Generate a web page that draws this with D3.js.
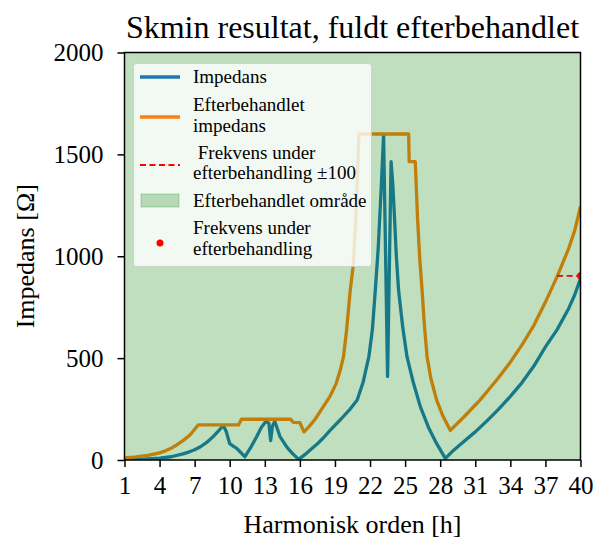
<!DOCTYPE html>
<html>
<head>
<meta charset="utf-8">
<script src="https://cdn.jsdelivr.net/npm/d3@7"></script>
<style>
  body { margin: 0; background: #fff; }
  text { font-family: "Liberation Serif", "Times New Roman", serif; }
</style>
</head>
<body>
<div id="graph"></div>
<script>
// harmonic order / impedance
var impedans = [
  [1,0],[2,2],[3,5],[4,9],[5,16],[6,30],[6.5,39],[7,50],[7.5,65],[8,85],[8.5,110],[9,140],[9.45,170],
  [9.7,140],[10.0,80],[10.3,68],[10.6,57],[11.3,16],[11.8,62],[12.3,114],[12.7,160],[13.1,190],
  [13.35,180],[13.5,95],[13.65,165],[13.85,190],[14.3,115],[14.9,62],[15.4,30],[15.9,3],
  [16.5,30],[17,55],[17.5,80],[18,108],[18.6,147],[19.5,200],[20.3,250],[20.9,294],[21.4,380],
  [21.9,507],[22.2,640],[22.45,834],[22.7,1040],[22.95,1330],[23.16,1595],[23.5,410],[23.8,1464],
  [23.95,1350],[24.1,1180],[24.25,1000],[24.44,834],[24.8,650],[25.16,507],[25.7,380],[26.3,262],
  [27.0,160],[27.7,80],[28.44,8],
  [29,40],[30,90],[31,138],[32,192],[33,250],[34,312],[35,380],[36,460],[37,555],[38,640],
  [39,745],[39.5,810],[40,890]
];
var efterbehandlet = [
  [1,10],[2,15],[3,23],[4,35],[4.5,45],[5,58],[5.5,75],[6,95],[6.6,123],[7.3,172],[10.75,172],[11.0,200],
  [15.2,200],[15.45,185],[16.0,183],[16.35,138],[16.8,165],[17.3,200],[18,262],[18.6,315],[19.1,375],
  [19.45,440],[19.73,507],[20.0,640],[20.3,830],[20.55,948],[20.8,1200],[21.05,1600],[25.3,1600],
  [25.35,1464],[25.87,1464],[26.07,1178],[26.25,990],[26.45,834],[26.65,660],[26.88,507],[27.2,400],
  [27.7,294],[28.2,220],[28.87,145],
  [30,210],[31,270],[31.4,294],[32,335],[33,405],[33.7,458],[34,480],[35,565],[36,660],[37,775],
  [38,900],[39,1040],[39.5,1125],[40,1245]
];
var frekvensLinje = [[38,904],[40,904]];
var frekvensPunkt = [[40,904]];
var omraade = [1, 40];
var xTicks = [1,4,7,10,13,16,19,22,25,28,31,34,37,40];
var yTicks = [0,500,1000,1500,2000];

var w = 597, h = 538;
var pLeft = 124.5, pRight = 580.5, pTop = 52.5, pBottom = 460;

var svg = d3.select("div#graph").append("svg")
  .attr("width", w).attr("height", h);

var x = d3.scaleLinear().domain([1,40]).range([pLeft, pRight]);
var y = d3.scaleLinear().domain([0,2000]).range([pBottom, pTop]);

svg.append("defs").append("clipPath").attr("id","clip")
  .append("rect").attr("x",pLeft).attr("y",pTop).attr("width",pRight-pLeft).attr("height",pBottom-pTop);

var plot = svg.append("g").attr("clip-path","url(#clip)");

var line = d3.line().x(function(d){return x(d[0])}).y(function(d){return y(d[1])});

plot.append("path").datum(impedans)
  .attr("fill","none").attr("stroke","#1f77b4").attr("stroke-width",3.3)
  .attr("stroke-linejoin","round").attr("stroke-linecap","round").attr("d", line);
plot.append("path").datum(efterbehandlet)
  .attr("fill","none").attr("stroke","#ff7f0e").attr("stroke-width",3.3)
  .attr("stroke-linejoin","round").attr("d", line);

// treated area (drawn over the lines, semi transparent)
plot.append("rect")
  .attr("x", x(omraade[0])).attr("y", y(2000))
  .attr("width", x(omraade[1]) - x(omraade[0])).attr("height", y(0) - y(2000))
  .attr("fill","green").attr("fill-opacity",0.25);

plot.append("path").datum(frekvensLinje)
  .attr("fill","none").attr("stroke","red").attr("stroke-width",1.8)
  .attr("stroke-dasharray","6,3.5").attr("d", line);
plot.selectAll("circle.pkt").data(frekvensPunkt).enter().append("circle")
  .attr("class","pkt").attr("fill","red")
  .attr("cx", function(d){return x(d[0])}).attr("cy", function(d){return y(d[1])}).attr("r",3.5);

// axes
var xa = svg.append("g").attr("transform","translate(0,"+pBottom+")")
  .call(d3.axisBottom(x).tickValues(xTicks).tickSize(7).tickPadding(9).tickFormat(d3.format("d")));
var ya = svg.append("g").attr("transform","translate("+pLeft+",0)")
  .call(d3.axisLeft(y).tickValues(yTicks).tickSize(7).tickPadding(14).tickFormat(d3.format("d")));
[xa, ya].forEach(function(a){
  a.select(".domain").remove();
  a.selectAll("line").attr("stroke","#000").attr("stroke-width",1.5);
  a.selectAll("text").attr("fill","#000").style("font-size","25px")
    .style("font-family","Liberation Serif, serif");
});

// frame
svg.append("rect").attr("x",pLeft).attr("y",pTop).attr("width",pRight-pLeft).attr("height",pBottom-pTop)
  .attr("fill","none").attr("stroke","#000").attr("stroke-width",1.5);

// titles
svg.append("text").attr("x",(pLeft+pRight)/2).attr("y",38).attr("text-anchor","middle")
  .style("font-size","32px").text("Skmin resultat, fuldt efterbehandlet");
svg.append("text").attr("x",(pLeft+pRight)/2).attr("y",533).attr("text-anchor","middle")
  .style("font-size","26px").text("Harmonisk orden [h]");
svg.append("text").attr("transform","translate(34,"+((pTop+pBottom)/2)+") rotate(-90)")
  .attr("text-anchor","middle").style("font-size","26px").text("Impedans [Ω]");

// legend
var lg = svg.append("g");
lg.append("rect").attr("x",133.5).attr("y",63.5).attr("width",238).attr("height",203).attr("rx",3)
  .attr("fill","#fff").attr("fill-opacity",0.8).attr("stroke","#ccc").attr("stroke-opacity",0.8);
var tx = 193, fs = "19px";
lg.append("line").attr("x1",140).attr("x2",180).attr("y1",77).attr("y2",77)
  .attr("stroke","#1f77b4").attr("stroke-width",3.3);
lg.append("line").attr("x1",140).attr("x2",180).attr("y1",117).attr("y2",117)
  .attr("stroke","#ff7f0e").attr("stroke-width",3.3);
lg.append("line").attr("x1",140).attr("x2",180).attr("y1",165).attr("y2",165)
  .attr("stroke","red").attr("stroke-width",1.8).attr("stroke-dasharray","6,3.5");
lg.append("rect").attr("x",141).attr("y",194).attr("width",38).attr("height",13)
  .attr("fill","green").attr("fill-opacity",0.25).attr("stroke","green").attr("stroke-opacity",0.25);
lg.append("circle").attr("cx",160).attr("cy",243).attr("r",3.5).attr("fill","red");
var labels = [
  ["Impedans", 83],
  ["Efterbehandlet", 111], ["impedans", 132],
  ["\u00a0Frekvens under", 159], ["efterbehandling \u00b1100", 179],
  ["Efterbehandlet område", 207],
  ["Frekvens under", 234], ["efterbehandling", 255]
];
lg.selectAll("text.lbl").data(labels).enter().append("text")
  .attr("class","lbl").attr("x",tx).attr("y",function(d){return d[1]})
  .style("font-size",fs).attr("fill","#000").text(function(d){return d[0]});
</script>
</body>
</html>
